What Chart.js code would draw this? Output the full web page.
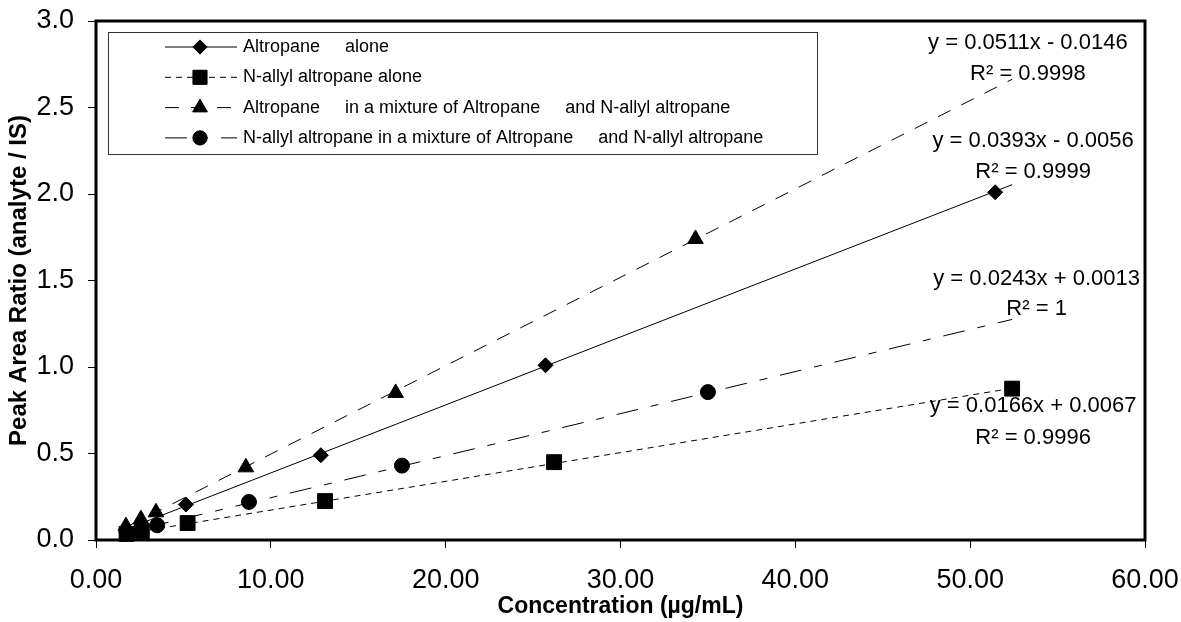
<!DOCTYPE html>
<html>
<head>
<meta charset="utf-8">
<title>Altropane / N-allyl altropane calibration</title>
<script src="https://cdn.jsdelivr.net/npm/chart.js@4.4.1/dist/chart.umd.min.js"></script>
<style>
    html, body { margin: 0; padding: 0; background: #fff; }
    canvas { display: block; }
</style>
</head>
<body>
<canvas id="calib_chart" width="1181" height="622"></canvas>
<script>
    "use strict";

    // legend names (wide gaps where the (TM) mark was lost in the original)
    var seriesNames = [
        'Altropane     alone',
        'N-allyl altropane alone',
        'Altropane     in a mixture of Altropane     and N-allyl altropane',
        'N-allyl altropane in a mixture of Altropane     and N-allyl altropane'
    ];

    // concentration (ug/mL) and peak area ratio
    var altroAloneX = [1.71, 2.57, 5.14, 12.86, 25.71, 51.43];
    var altroAloneY = [0.06, 0.095, 0.205, 0.49, 1.01, 2.01];

    var allylAloneX = [1.75, 2.62, 5.24, 13.1, 26.2, 52.4];
    var allylAloneY = [0.035, 0.05, 0.098, 0.225, 0.45, 0.875];

    var altroMixX = [1.71, 2.57, 3.43, 8.57, 17.14, 34.29];
    var altroMixY = [0.08, 0.12, 0.16, 0.42, 0.85, 1.74];

    var allylMixX = [1.75, 3.5, 8.75, 17.5, 35.0];
    var allylMixY = [0.045, 0.085, 0.22, 0.43, 0.855];

    // trendline end points (start, end) as drawn in the figure
    var altroAloneTrendX = [1.71, 52.4];
    var altroAloneTrendY = [0.062, 2.054];
    var allylAloneTrendX = [1.75, 52.4];
    var allylAloneTrendY = [0.036, 0.877];
    var altroMixTrendX = [1.71, 52.4];
    var altroMixTrendY = [0.073, 2.663];
    var allylMixTrendX = [1.75, 52.4];
    var allylMixTrendY = [0.044, 1.275];

    // regression labels
    var eqLabels = ['y = 0.0393x - 0.0056', 'y = 0.0166x + 0.0067', 'y = 0.0511x - 0.0146', 'y = 0.0243x + 0.0013'];
    var r2Labels = ['R\u00B2 = 0.9999', 'R\u00B2 = 0.9996', 'R\u00B2 = 0.9998', 'R\u00B2 = 1'];

    // axis ticks
    var xTicks = [0, 10, 20, 30, 40, 50, 60];
    var yTicks = [0, 0.5, 1.0, 1.5, 2.0, 2.5, 3.0];

    var FONT = '"Liberation Sans", Arial, Helvetica, sans-serif';

    // where the equation / R2 labels sit, in data units (centre of text)
    var eqPos = [
        { x: 53.6, y: 2.306, ry: 2.127 },
        { x: 53.6, y: 0.775, ry: 0.590 },
        { x: 53.3, y: 2.873, ry: 2.694 },
        { x: 53.8, y: 1.509, ry: 1.335 }
    ];

    var markerStyles = [
        { pointStyle: 'rectRot', radius: 7.5 },
        { pointStyle: 'rect', radius: 10.5 },
        { pointStyle: 'triangle', radius: 9 },
        { pointStyle: 'circle', radius: 7.5 }
    ];
    var lineDashes = [[], [6, 5], [14, 12], [22, 13, 8, 13]];

    function toPoints(xs, ys) {
        return xs.map(function (x, i) { return { x: x, y: ys[i] }; });
    }

    var markerData = [
        toPoints(altroAloneX, altroAloneY),
        toPoints(allylAloneX, allylAloneY),
        toPoints(altroMixX, altroMixY),
        toPoints(allylMixX, allylMixY)
    ];
    var trendData = [
        toPoints(altroAloneTrendX, altroAloneTrendY),
        toPoints(allylAloneTrendX, allylAloneTrendY),
        toPoints(altroMixTrendX, altroMixTrendY),
        toPoints(allylMixTrendX, allylMixTrendY)
    ];

    var datasets = [];
    seriesNames.forEach(function (name, i) {
        datasets.push({
            type: 'scatter',
            label: name,
            data: markerData[i],
            showLine: false,
            pointStyle: markerStyles[i].pointStyle,
            pointRadius: markerStyles[i].radius,
            pointBackgroundColor: '#000',
            pointBorderColor: '#000',
            pointBorderWidth: 1,
            clip: false,
            order: 0
        });
        datasets.push({
            type: 'line',
            label: name + ' trend',
            data: trendData[i],
            borderColor: '#000',
            borderWidth: 1,
            borderDash: lineDashes[i],
            pointRadius: 0,
            fill: false,
            tension: 0,
            order: 1
        });
    });

    // thick black frame round the plot area
    var framePlugin = {
        id: 'frame',
        afterDatasetsDraw: function (chart) {
            var a = chart.chartArea, ctx = chart.ctx;
            ctx.save();
            ctx.strokeStyle = '#000';
            ctx.lineWidth = 3;
            ctx.setLineDash([]);
            ctx.strokeRect(a.left, a.top, a.right - a.left, a.bottom - a.top);
            ctx.restore();
        }
    };

    // regression equations next to the line ends
    var equationPlugin = {
        id: 'equations',
        afterDatasetsDraw: function (chart) {
            var ctx = chart.ctx, xs = chart.scales.x, ys = chart.scales.y;
            ctx.save();
            ctx.fillStyle = '#000';
            ctx.font = '22px ' + FONT;
            ctx.textAlign = 'center';
            ctx.textBaseline = 'middle';
            eqLabels.forEach(function (txt, i) {
                var px = xs.getPixelForValue(eqPos[i].x);
                ctx.fillText(txt, px, ys.getPixelForValue(eqPos[i].y));
                ctx.fillText(r2Labels[i], px, ys.getPixelForValue(eqPos[i].ry));
            });
            ctx.restore();
        }
    };

    // boxed legend: line sample with the marker in the middle
    var legendPlugin = {
        id: 'boxLegend',
        afterDraw: function (chart) {
            var ctx = chart.ctx;
            var box = { left: 108, top: 32, right: 817, bottom: 154 };
            ctx.save();
            ctx.fillStyle = '#fff';
            ctx.fillRect(box.left, box.top, box.right - box.left, box.bottom - box.top);
            ctx.strokeStyle = '#333';
            ctx.lineWidth = 1;
            ctx.strokeRect(box.left + 0.5, box.top + 0.5, box.right - box.left, box.bottom - box.top);

            ctx.font = '18px ' + FONT;
            ctx.textBaseline = 'middle';
            ctx.textAlign = 'left';
            seriesNames.forEach(function (name, i) {
                var y = 47 + i * 30.3;
                ctx.strokeStyle = '#000';
                ctx.setLineDash(lineDashes[i]);
                ctx.beginPath();
                ctx.moveTo(165, y);
                ctx.lineTo(237, y);
                ctx.stroke();
                ctx.setLineDash([]);
                ctx.fillStyle = '#000';
                Chart.helpers.drawPoint(ctx, {
                    pointStyle: markerStyles[i].pointStyle,
                    radius: markerStyles[i].radius * 0.95,
                    rotation: 0,
                    borderWidth: 1
                }, 200, y);
                ctx.fillStyle = '#000';
                ctx.fillText(name, 243, y);
            });
            ctx.restore();
        }
    };

    var ctx = document.getElementById('calib_chart').getContext('2d');
    new Chart(ctx, {
        data: { datasets: datasets },
        options: {
            responsive: false,
            animation: false,
            devicePixelRatio: 1,
            layout: { padding: { top: 21, right: 36, left: 0, bottom: 0 } },
            plugins: {
                legend: { display: false },
                tooltip: { enabled: false }
            },
            scales: {
                x: {
                    type: 'linear',
                    min: xTicks[0],
                    max: xTicks[xTicks.length - 1],
                    afterBuildTicks: function (scale) {
                        scale.ticks = xTicks.map(function (v) { return { value: v }; });
                    },
                    afterFit: function (scale) {
                        scale.height = 82;
                        // let the end labels hang into the margins
                        scale.paddingLeft = 0;
                        scale.paddingRight = 0;
                    },
                    ticks: {
                        callback: function (v) { return Number(v).toFixed(2); },
                        font: { family: FONT, size: 27 },
                        color: '#000',
                        padding: 16,
                        maxRotation: 0
                    },
                    grid: {
                        drawOnChartArea: false,
                        drawTicks: true,
                        tickLength: 8,
                        color: '#000',
                        tickColor: '#000'
                    },
                    border: { display: false },
                    title: {
                        display: true,
                        text: 'Concentration (\u00B5g/mL)',
                        font: { family: FONT, size: 23, weight: 'bold' },
                        color: '#000',
                        padding: { top: 0, bottom: 2 }
                    }
                },
                y: {
                    type: 'linear',
                    min: yTicks[0],
                    max: yTicks[yTicks.length - 1],
                    afterBuildTicks: function (scale) {
                        scale.ticks = yTicks.map(function (v) { return { value: v }; });
                    },
                    afterFit: function (scale) {
                        scale.width = 96;
                        scale.paddingTop = 0;
                        scale.paddingBottom = 0;
                    },
                    ticks: {
                        callback: function (v) { return Number(v).toFixed(1); },
                        font: { family: FONT, size: 27 },
                        color: '#000',
                        padding: 14
                    },
                    grid: {
                        drawOnChartArea: false,
                        drawTicks: true,
                        tickLength: 8,
                        color: '#000',
                        tickColor: '#000'
                    },
                    border: { display: false },
                    title: {
                        display: true,
                        text: 'Peak Area Ratio (analyte / IS)',
                        font: { family: FONT, size: 24, weight: 'bold' },
                        color: '#000',
                        padding: { top: 5, bottom: 0 }
                    }
                }
            }
        },
        plugins: [framePlugin, equationPlugin, legendPlugin]
    });
</script>
</body>
</html>
